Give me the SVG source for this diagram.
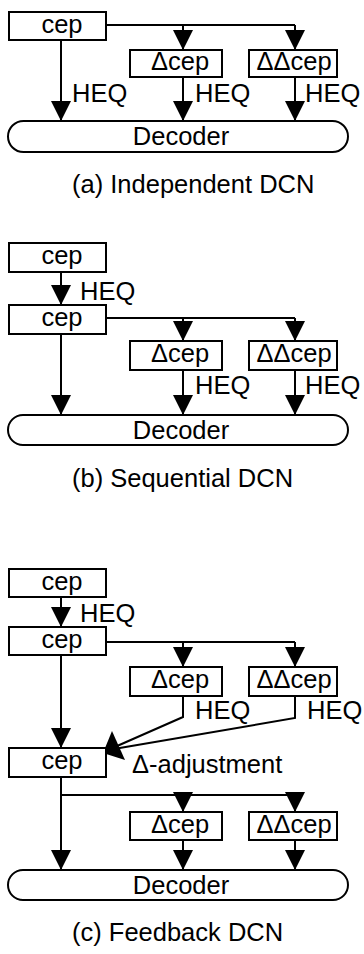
<svg xmlns="http://www.w3.org/2000/svg" width="364" height="954" viewBox="0 0 364 954">
<style>
.box{fill:#fff;stroke:#000;stroke-width:2}
.ln{fill:none;stroke:#000;stroke-width:2}
.t{font-family:"Liberation Sans",Arial,Helvetica,sans-serif;font-size:25.5px;fill:#000}
.m{text-anchor:middle}
</style>
<defs>
<marker id="ah" viewBox="0 0 20 20" refX="20" refY="10" markerWidth="20" markerHeight="20" markerUnits="userSpaceOnUse" orient="auto">
<path d="M0,0 L20,10 L0,20 z" fill="#000"/>
</marker>
</defs>
<rect width="364" height="954" fill="#fff"/>
<g id="connectors">
<!-- (a) -->
<path class="ln" d="M106,25 H295"/>
<path class="ln" d="M183,25 V50" marker-end="url(#ah)"/>
<path class="ln" d="M295,25 V50" marker-end="url(#ah)"/>
<path class="ln" d="M61,40 V121" marker-end="url(#ah)"/>
<path class="ln" d="M183,77 V121" marker-end="url(#ah)"/>
<path class="ln" d="M295,77 V121" marker-end="url(#ah)"/>
<!-- (b) -->
<path class="ln" d="M61,272 V305" marker-end="url(#ah)"/>
<path class="ln" d="M106,318 H295"/>
<path class="ln" d="M183,318 V341" marker-end="url(#ah)"/>
<path class="ln" d="M295,318 V341" marker-end="url(#ah)"/>
<path class="ln" d="M61,334 V415" marker-end="url(#ah)"/>
<path class="ln" d="M183,370 V415" marker-end="url(#ah)"/>
<path class="ln" d="M295,370 V415" marker-end="url(#ah)"/>
<!-- (c) -->
<path class="ln" d="M61,597 V627" marker-end="url(#ah)"/>
<path class="ln" d="M106,642 H295"/>
<path class="ln" d="M183,642 V667" marker-end="url(#ah)"/>
<path class="ln" d="M295,642 V667" marker-end="url(#ah)"/>
<path class="ln" d="M61,655 V748" marker-end="url(#ah)"/>
<path class="ln" d="M183,696 V717 L108,750"/>
<path class="ln" d="M295,696 V718 L108,750"/>
<polygon points="103,753 112,731 125,760" fill="#000"/>
<path class="ln" d="M61,777 V870" marker-end="url(#ah)"/>
<path class="ln" d="M61,795 H295"/>
<path class="ln" d="M183,795 V812" marker-end="url(#ah)"/>
<path class="ln" d="M295,795 V812" marker-end="url(#ah)"/>
<path class="ln" d="M183,840 V870" marker-end="url(#ah)"/>
<path class="ln" d="M295,840 V870" marker-end="url(#ah)"/>
</g>
<g id="labels">
<text class="t" x="72" y="102">HEQ</text>
<text class="t" x="195" y="102">HEQ</text>
<text class="t" x="305" y="102">HEQ</text>
<text class="t" x="80" y="300">HEQ</text>
<text class="t" x="195" y="394">HEQ</text>
<text class="t" x="305" y="394">HEQ</text>
<text class="t" x="80" y="622">HEQ</text>
<text class="t" x="195" y="719">HEQ</text>
<text class="t" x="307" y="719">HEQ</text>
<text class="t" x="132" y="773">Δ-adjustment</text>
</g>
<!-- (a) nodes -->
<g id="a-cep"><rect class="box" x="9" y="12" width="97" height="28"/><text class="t m" x="62" y="33">cep</text></g>
<g id="a-dcep"><rect class="box" x="130" y="50" width="92" height="27"/><text class="t m" x="180" y="70">Δcep</text></g>
<g id="a-ddcep"><rect class="box" x="249" y="50" width="88" height="27"/><text class="t m" x="294" y="70">ΔΔcep</text></g>
<g id="a-decoder"><rect class="box" x="8" y="121" width="340" height="31" rx="15.5"/><text class="t m" x="181" y="145">Decoder</text></g>
<g id="a-caption"><text class="t" x="72" y="193">(a) Independent DCN</text></g>
<!-- (b) nodes -->
<g id="b-cep1"><rect class="box" x="9" y="243" width="97" height="29"/><text class="t m" x="62" y="264">cep</text></g>
<g id="b-cep2"><rect class="box" x="9" y="305" width="97" height="29"/><text class="t m" x="62" y="326">cep</text></g>
<g id="b-dcep"><rect class="box" x="130" y="341" width="92" height="29"/><text class="t m" x="180" y="362">Δcep</text></g>
<g id="b-ddcep"><rect class="box" x="249" y="341" width="88" height="29"/><text class="t m" x="294" y="362">ΔΔcep</text></g>
<g id="b-decoder"><rect class="box" x="8" y="415" width="340" height="30" rx="15"/><text class="t m" x="181" y="439">Decoder</text></g>
<g id="b-caption"><text class="t" x="72" y="487">(b) Sequential DCN</text></g>
<!-- (c) nodes -->
<g id="c-cep1"><rect class="box" x="9" y="569" width="97" height="28"/><text class="t m" x="62" y="590">cep</text></g>
<g id="c-cep2"><rect class="box" x="9" y="627" width="97" height="28"/><text class="t m" x="62" y="648">cep</text></g>
<g id="c-dcep1"><rect class="box" x="130" y="667" width="92" height="29"/><text class="t m" x="180" y="688">Δcep</text></g>
<g id="c-ddcep1"><rect class="box" x="249" y="667" width="88" height="29"/><text class="t m" x="294" y="688">ΔΔcep</text></g>
<g id="c-cep3"><rect class="box" x="9" y="748" width="97" height="29"/><text class="t m" x="62" y="769">cep</text></g>
<g id="c-dcep2"><rect class="box" x="130" y="812" width="92" height="28"/><text class="t m" x="180" y="833">Δcep</text></g>
<g id="c-ddcep2"><rect class="box" x="249" y="812" width="88" height="28"/><text class="t m" x="294" y="833">ΔΔcep</text></g>
<g id="c-decoder"><rect class="box" x="8" y="870" width="340" height="30" rx="15"/><text class="t m" x="181" y="894">Decoder</text></g>
<g id="c-caption"><text class="t" x="72" y="941">(c) Feedback DCN</text></g>
</svg>
